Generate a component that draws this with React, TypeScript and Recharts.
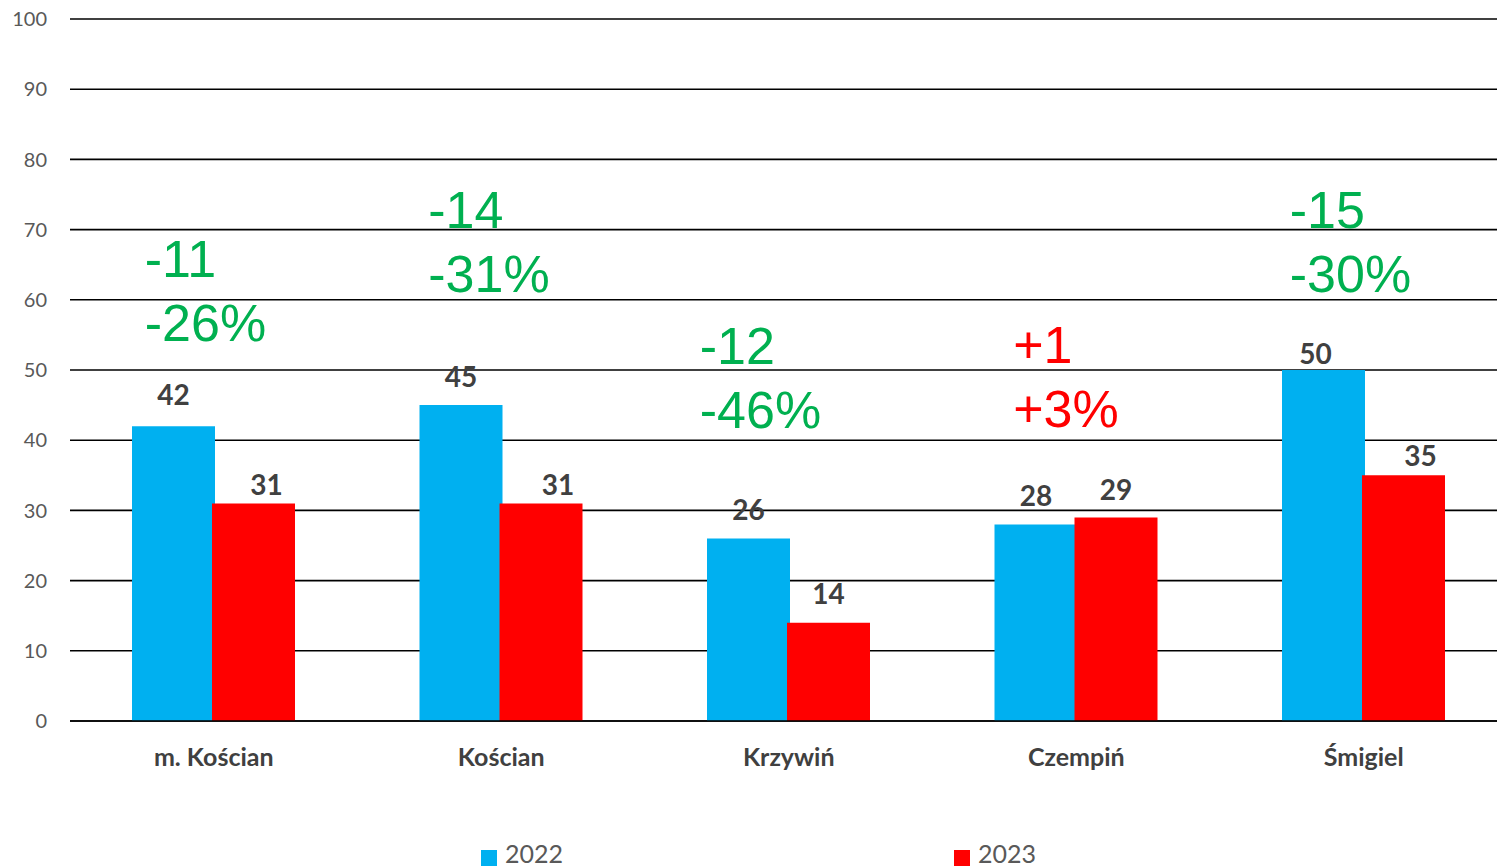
import React from "react";
import {
  ComposedChart,
  Bar,
  Scatter,
  XAxis,
  YAxis,
  CartesianGrid,
  Legend,
  LabelList,
} from "recharts";

const categories = ["m. Kościan", "Kościan", "Krzywiń", "Czempiń", "Śmigiel"];
const values2022 = [42, 45, 26, 28, 50];
const values2023 = [31, 31, 14, 29, 35];
const changeAbs = ["-11", "-14", "-12", "+1", "-15"];
const changePct = ["-26%", "-31%", "-46%", "+3%", "-30%"];
const yTicks = [0, 10, 20, 30, 40, 50, 60, 70, 80, 90, 100];

// where the change notes sit (axis units) and how they were nudged in the original
const noteLevel = [63.2, 70.2, 50.8, 51, 70.2];
const noteDx = [-69, -73, -89, -63, -74];
// manual label nudges seen in the source chart
const label2022Dx = [0, 0, 0, 0, -8];
const label2022Gap = [21, 18, 18, 18, 6];
const label2023Dx = [13, 17, 0, 0, 17];
const label2023Gap = [8, 8, 19, 17, 9];

const BLUE = "#00B0F0";
const RED = "#FF0000";
const GREEN = "#00B050";

const data = categories.map((name, i) => ({
  name,
  y2022: values2022[i],
  y2023: values2023[i],
  note: noteLevel[i],
}));

function makeLabel(dxs: number[], gaps: number[]) {
  return (props: any) => {
    const { x, y, width, value, index } = props;
    return (
      <text
        x={Number(x) + Number(width) / 2 + dxs[index]}
        y={Number(y) - gaps[index]}
        textAnchor="middle"
        fill="#404040"
        fontSize={28}
        fontWeight={700}
        fontFamily="Lato"
      >
        {value}
      </text>
    );
  };
}

function NoteShape(props: any) {
  const { cx, cy, index } = props;
  const positive = changeAbs[index].startsWith("+");
  const x = cx + noteDx[index];
  return (
    <g>
      <text x={x} y={cy} fill={positive ? RED : GREEN} fontSize={52} fontFamily="Liberation Sans">
        {changeAbs[index]}
      </text>
      <text x={x} y={cy + 64} fill={positive ? RED : GREEN} fontSize={52} fontFamily="Liberation Sans">
        {changePct[index]}
      </text>
    </g>
  );
}

function LegendBox() {
  const item = (left: number, color: string, text: string) => (
    <div style={{ position: "absolute", left, top: 0, height: 56 }}>
      <div style={{ position: "absolute", left: 0, top: 39, width: 16, height: 16, background: color }} />
      <span
        style={{
          position: "absolute",
          left: 24,
          top: 30,
          lineHeight: "25px",
          fontSize: 25,
          fontFamily: "Lato",
          color: "#595959",
          whiteSpace: "nowrap",
        }}
      >
        {text}
      </span>
    </div>
  );
  return (
    <div style={{ position: "relative", width: 1497, height: 56 }}>
      {item(481, BLUE, "2022")}
      {item(954, RED, "2023")}
    </div>
  );
}

export default function App() {
  return (
    <div
      style={{
        position: "absolute",
        left: 0,
        top: 0,
        width: 1497,
        height: 867,
        overflow: "hidden",
        background: "#fff",
      }}
    >
      <ComposedChart
        width={1510}
        height={867}
        data={data}
        margin={{ top: 19, right: 2.5, left: 0, bottom: 0 }}
        barGap={-3}
        barSize={83}
      >
        <CartesianGrid vertical={false} stroke="#000" strokeWidth={1.6} />
        <XAxis
          dataKey="name"
          height={90}
          tickLine={false}
          tickSize={0}
          tickMargin={27}
          axisLine={{ stroke: "#000", strokeWidth: 1.6 }}
          tick={{ fill: "#404040", fontSize: 25, fontWeight: 700, fontFamily: "Lato" }}
        />
        <YAxis
          width={70}
          domain={[0, 100]}
          ticks={yTicks}
          interval={0}
          axisLine={false}
          tickLine={false}
          tickSize={0}
          tickMargin={23}
          tick={{ fill: "#595959", fontSize: 20, fontFamily: "Lato" }}
        />
        <Legend verticalAlign="bottom" height={56} content={() => <LegendBox />} />
        <Bar dataKey="y2022" name="2022" fill={BLUE} isAnimationActive={false}>
          <LabelList dataKey="y2022" content={makeLabel(label2022Dx, label2022Gap)} />
        </Bar>
        <Bar dataKey="y2023" name="2023" fill={RED} isAnimationActive={false}>
          <LabelList dataKey="y2023" content={makeLabel(label2023Dx, label2023Gap)} />
        </Bar>
        <Scatter dataKey="note" legendType="none" shape={NoteShape} isAnimationActive={false} />
      </ComposedChart>
    </div>
  );
}
